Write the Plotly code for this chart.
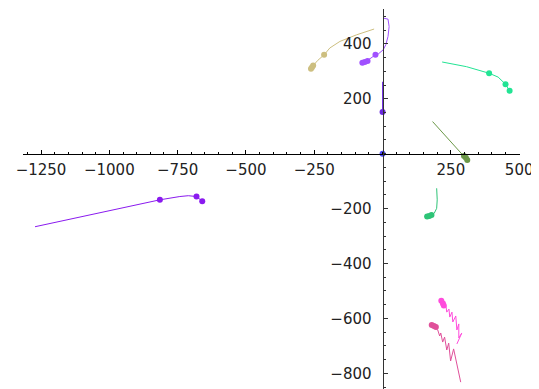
import plotly.graph_objects as go

# ---- data ----
origin_x = [0]
origin_y = [0]

vert_line_x = [0, 0]
vert_line_y = [262, 152]
vert_dot_x = [0]
vert_dot_y = [152]

purple_line_x = [2, 20, 24, 20, 12, 2, -16, -26, -46, -65, -76]
purple_line_y = [494, 490, 463, 427, 397, 378, 363, 360, 346, 336, 330]
purple_dot_x = [-26, -55, -65, -74]
purple_dot_y = [360, 338, 334, 331]

khaki_line_x = [-31, -95, -156, -193, -214, -237, -254, -262]
khaki_line_y = [454, 433, 409, 385, 360, 340, 321, 309]
khaki_dot_x = [-214, -254, -258, -262]
khaki_dot_y = [360, 321, 315, 309]

teal_line_x = [218, 307, 390, 423, 450, 465]
teal_line_y = [334, 317, 293, 279, 253, 229]
teal_dot_x = [390, 450, 465]
teal_dot_y = [293, 253, 229]

olive_line_x = [183, 295, 298, 305, 310]
olive_line_y = [117, -4, -8, -15, -23]
olive_dot_x = [298, 305, 310]
olive_dot_y = [-8, -15, -23]

green_line_x = [198, 200, 198, 189, 179, 171, 163]
green_line_y = [-126, -168, -199, -217, -223, -227, -229]
green_dot_x = [179, 171, 163]
green_dot_y = [-223, -227, -229]

violet_line_x = [-1272, -815, -742, -711, -681, -660]
violet_line_y = [-266, -168, -156, -153, -156, -173]
violet_dot_x = [-815, -681, -660]
violet_dot_y = [-168, -156, -173]

magenta_line_x = [221, 232, 235, 243, 246, 254, 257, 268, 272, 279, 279, 290, 272]
magenta_line_y = [-540, -555, -577, -566, -595, -577, -613, -591, -642, -620, -671, -653, -693]
magenta_dot_x = [215, 221, 224]
magenta_dot_y = [-536, -546, -553]

pink_line_x = [187, 202, 209, 213, 220, 227, 235, 242, 249, 260, 286]
pink_line_y = [-628, -642, -664, -653, -686, -668, -715, -690, -755, -711, -832]
pink_dot_x = [180, 188, 195]
pink_dot_y = [-624, -628, -631]

x_ticks = [-1250, -1000, -750, -500, -250, 250, 500]
x_tick_text = ["\u22121250", "\u22121000", "\u2212750", "\u2212500", "\u2212250", "250", "500"]
y_ticks = [400, 200, -200, -400, -600, -800]
y_tick_text = ["400", "200", "\u2212200", "\u2212400", "\u2212600", "\u2212800"]

X_RANGE = [-1316, 503]
Y_RANGE = [-857, 527]

# ---- figure ----
fig = go.Figure()

series = [
    (vert_line_x, vert_line_y, vert_dot_x, vert_dot_y, "#6a28e0"),
    (purple_line_x, purple_line_y, purple_dot_x, purple_dot_y, "#a050ff"),
    (khaki_line_x, khaki_line_y, khaki_dot_x, khaki_dot_y, "#cdbf80"),
    (teal_line_x, teal_line_y, teal_dot_x, teal_dot_y, "#22e494"),
    (olive_line_x, olive_line_y, olive_dot_x, olive_dot_y, "#6b9848"),
    (green_line_x, green_line_y, green_dot_x, green_dot_y, "#2ec477"),
    (violet_line_x, violet_line_y, violet_dot_x, violet_dot_y, "#8a1aef"),
    (magenta_line_x, magenta_line_y, magenta_dot_x, magenta_dot_y, "#ff4cdc"),
    (pink_line_x, pink_line_y, pink_dot_x, pink_dot_y, "#e0509a"),
]

for lx, ly, dx, dy, col in series:
    fig.add_trace(go.Scatter(x=lx, y=ly, mode="lines",
                             line=dict(color=col, width=1), hoverinfo="skip"))
    fig.add_trace(go.Scatter(x=dx, y=dy, mode="markers",
                             marker=dict(color=col, size=6), hoverinfo="skip"))

fig.add_trace(go.Scatter(x=origin_x, y=origin_y, mode="markers",
                         marker=dict(color="#4b45f5", size=6), hoverinfo="skip"))

ypos = (0 - Y_RANGE[0]) / (Y_RANGE[1] - Y_RANGE[0])
xpos = (0 - X_RANGE[0]) / (X_RANGE[1] - X_RANGE[0])

font = dict(family="DejaVu Sans", size=15, color="#222222")

# the page body has an 8px default margin, so the figure is 8px smaller
fig.update_layout(
    width=531, height=381,
    margin=dict(l=15, r=19, t=1, b=0, pad=0, autoexpand=False),
    paper_bgcolor="white", plot_bgcolor="white",
    showlegend=False,
    xaxis=dict(range=X_RANGE, anchor="free", position=ypos, automargin=False,
               showgrid=False, zeroline=False, showline=True,
               linecolor="black", linewidth=1,
               ticks="inside", ticklen=4, tickcolor="black", tickwidth=1,
               tickmode="array", tickvals=x_ticks, ticktext=x_tick_text,
               tickfont=font, ticklabelstandoff=2,
               minor=dict(dtick=50, tick0=0, ticks="inside", ticklen=2,
                          tickcolor="black", showgrid=False)),
    yaxis=dict(range=Y_RANGE, anchor="free", position=xpos, automargin=False,
               showgrid=False, zeroline=False, showline=True,
               linecolor="#333333", linewidth=1,
               ticks="inside", ticklen=4, tickcolor="#333333", tickwidth=1,
               tickmode="array", tickvals=y_ticks, ticktext=y_tick_text,
               tickfont=font, ticklabelstandoff=8,
               minor=dict(dtick=50, tick0=0, ticks="inside", ticklen=2,
                          tickcolor="#333333", showgrid=False)),
)

fig.write_html("out.html", config={"displayModeBar": False})
